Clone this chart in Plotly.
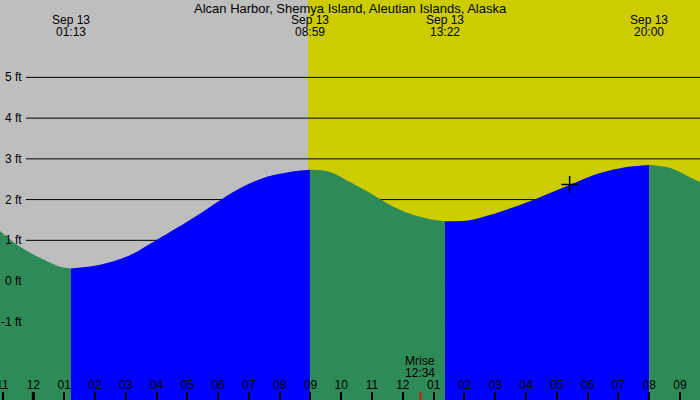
import plotly.graph_objects as go
import pandas as pd

# Tide curve (local time, feet)
tide_times = [
    '2023-09-12 22:55', '2023-09-12 23:34', '2023-09-13 00:13', '2023-09-13 00:52',
    '2023-09-13 01:13', '2023-09-13 02:10', '2023-09-13 03:02', '2023-09-13 04:00',
    '2023-09-13 04:39', '2023-09-13 05:25', '2023-09-13 06:07', '2023-09-13 06:49',
    '2023-09-13 07:35', '2023-09-13 08:20', '2023-09-13 08:59', '2023-09-13 09:38',
    '2023-09-13 10:17', '2023-09-13 10:56', '2023-09-13 11:35', '2023-09-13 12:14',
    '2023-09-13 12:53', '2023-09-13 13:22', '2023-09-13 14:10', '2023-09-13 14:49',
    '2023-09-13 15:48', '2023-09-13 16:27', '2023-09-13 17:25', '2023-09-13 18:24',
    '2023-09-13 19:16', '2023-09-13 20:00', '2023-09-13 20:40', '2023-09-13 21:19',
    '2023-09-13 21:39',
]
tide_heights = [
    1.23, 0.84, 0.57, 0.35,
    0.31, 0.40, 0.60, 1.01,
    1.30, 1.66, 2.01, 2.32,
    2.56, 2.68, 2.73, 2.68,
    2.43, 2.16, 1.87, 1.65,
    1.52, 1.47, 1.49, 1.62,
    1.87, 2.06, 2.36, 2.65,
    2.80, 2.85, 2.78, 2.55,
    2.43,
]

# High / low water
extreme_times = ['2023-09-13 01:13', '2023-09-13 08:59', '2023-09-13 13:22', '2023-09-13 20:00']
extreme_dates = ['Sep 13', 'Sep 13', 'Sep 13', 'Sep 13']
extreme_labels = ['01:13', '08:59', '13:22', '20:00']

# Sun / moon / current position
sunrise = '2023-09-13 08:55'
moonrise = '2023-09-13 12:34'
moonrise_label = '12:34'
midnight = '2023-09-13 00:00'
now_time = ['2023-09-13 17:25']
now_height = [2.37]

ytick_vals = [5, 4, 3, 2, 1, 0, -1]
ytick_text = ['5 ft', '4 ft', '3 ft', '2 ft', '1 ft', '0 ft', '-1 ft']

x_range = ['2023-09-12 22:55', '2023-09-13 21:39']
y_range = [-2.92, 6.90]

colors = {
    'night': '#BEBEBE',
    'day': '#CCCC00',
    'falling': '#2E8B57',
    'rising': '#0000FF',
}
font = 'Liberation Sans, Arial, sans-serif'

fig = go.Figure()

# Split the curve at each high / low water into ebb and flood segments
t = pd.to_datetime(pd.Series(tide_times))
h = pd.Series(tide_heights)
bounds = [t.iloc[0]] + list(pd.to_datetime(extreme_times)) + [t.iloc[-1]]
for a, b in zip(bounds[:-1], bounds[1:]):
    m = (t >= a) & (t <= b)
    seg_t, seg_h = t[m], h[m]
    falling = seg_h.iloc[-1] < seg_h.iloc[0]
    # baseline under the segment
    fig.add_trace(go.Scatter(
        x=seg_t, y=[y_range[0]] * len(seg_t),
        mode='lines', line={'width': 0},
        hoverinfo='skip', showlegend=False,
    ))
    fig.add_trace(go.Scatter(
        x=seg_t, y=seg_h,
        mode='lines', line={'width': 0, 'shape': 'spline'},
        fill='tonexty',
        fillcolor=colors['falling'] if falling else colors['rising'],
        hoverinfo='skip', showlegend=False,
    ))

# Current time marker
fig.add_trace(go.Scatter(
    x=now_time, y=now_height,
    mode='markers',
    marker={'symbol': 'cross-thin', 'size': 12, 'line': {'width': 1.5, 'color': 'black'}},
    hoverinfo='skip', showlegend=False,
))

shapes = [
    # daylight
    dict(type='rect', xref='x', yref='paper', x0=sunrise, x1=x_range[1], y0=0, y1=1,
         fillcolor=colors['day'], line={'width': 0}, layer='below'),
]
# height lines
for v in ytick_vals:
    shapes.append(dict(type='line', xref='paper', yref='y', x0=26 / 700, x1=1, y0=v, y1=v,
                       line={'color': 'black', 'width': 1}, layer='below'))
# midnight and moonrise ticks
shapes.append(dict(type='line', xref='x', yref='paper', x0=midnight, x1=midnight, y0=0, y1=0.02,
                   line={'color': 'black', 'width': 3}, layer='above'))
shapes.append(dict(type='line', xref='x', yref='paper', x0=moonrise, x1=moonrise, y0=0, y1=0.02,
                   line={'color': 'red', 'width': 1.5}, layer='above'))

annotations = [
    dict(text='Alcan Harbor, Shemya Island, Aleutian Islands, Alaska', x=0.5, y=1,
         xref='paper', yref='paper', yanchor='middle', yshift=-8, showarrow=False,
         font={'size': 13}),
    dict(text='Mrise', x=moonrise, y=0, xref='x', yref='paper', yanchor='middle',
         yshift=39, showarrow=False),
    dict(text=moonrise_label, x=moonrise, y=0, xref='x', yref='paper', yanchor='middle',
         yshift=27, showarrow=False),
]
for et, ed, el in zip(extreme_times, extreme_dates, extreme_labels):
    annotations.append(dict(text=ed, x=et, y=1, xref='x', yref='paper', yanchor='middle',
                            yshift=-20, showarrow=False))
    annotations.append(dict(text=el, x=et, y=1, xref='x', yref='paper', yanchor='middle',
                            yshift=-32, showarrow=False))
for v, s in zip(ytick_vals, ytick_text):
    annotations.append(dict(text=s, x=24 / 700, y=v, xref='paper', yref='y',
                            xanchor='right', yanchor='middle', showarrow=False))

fig.update_layout(
    width=700,
    height=400,
    margin={'l': 0, 'r': 0, 't': 0, 'b': 0, 'pad': 0, 'autoexpand': False},
    paper_bgcolor=colors['night'],
    plot_bgcolor=colors['night'],
    font={'family': font, 'size': 12, 'color': 'black'},
    shapes=shapes,
    annotations=annotations,
    xaxis={
        'type': 'date',
        'range': x_range,
        'tick0': midnight,
        'dtick': 3600000,
        'tickformat': '%I',
        'ticks': 'inside',
        'ticklen': 8,
        'tickwidth': 1.5,
        'tickcolor': 'black',
        'tickfont': {'color': 'black', 'size': 12},
        'ticklabelposition': 'inside',
        'ticklabeloverflow': 'allow',
        'ticklabelstandoff': 0,
        'showgrid': False,
        'zeroline': False,
        'showline': False,
        'fixedrange': True,
    },
    yaxis={
        'range': y_range,
        'visible': False,
        'fixedrange': True,
    },
)

# Drop the browser's default page margin so the chart sits at the top-left corner
fig.write_html('out.html', config={'displayModeBar': False},
               post_script="document.body.style.margin='0';")
